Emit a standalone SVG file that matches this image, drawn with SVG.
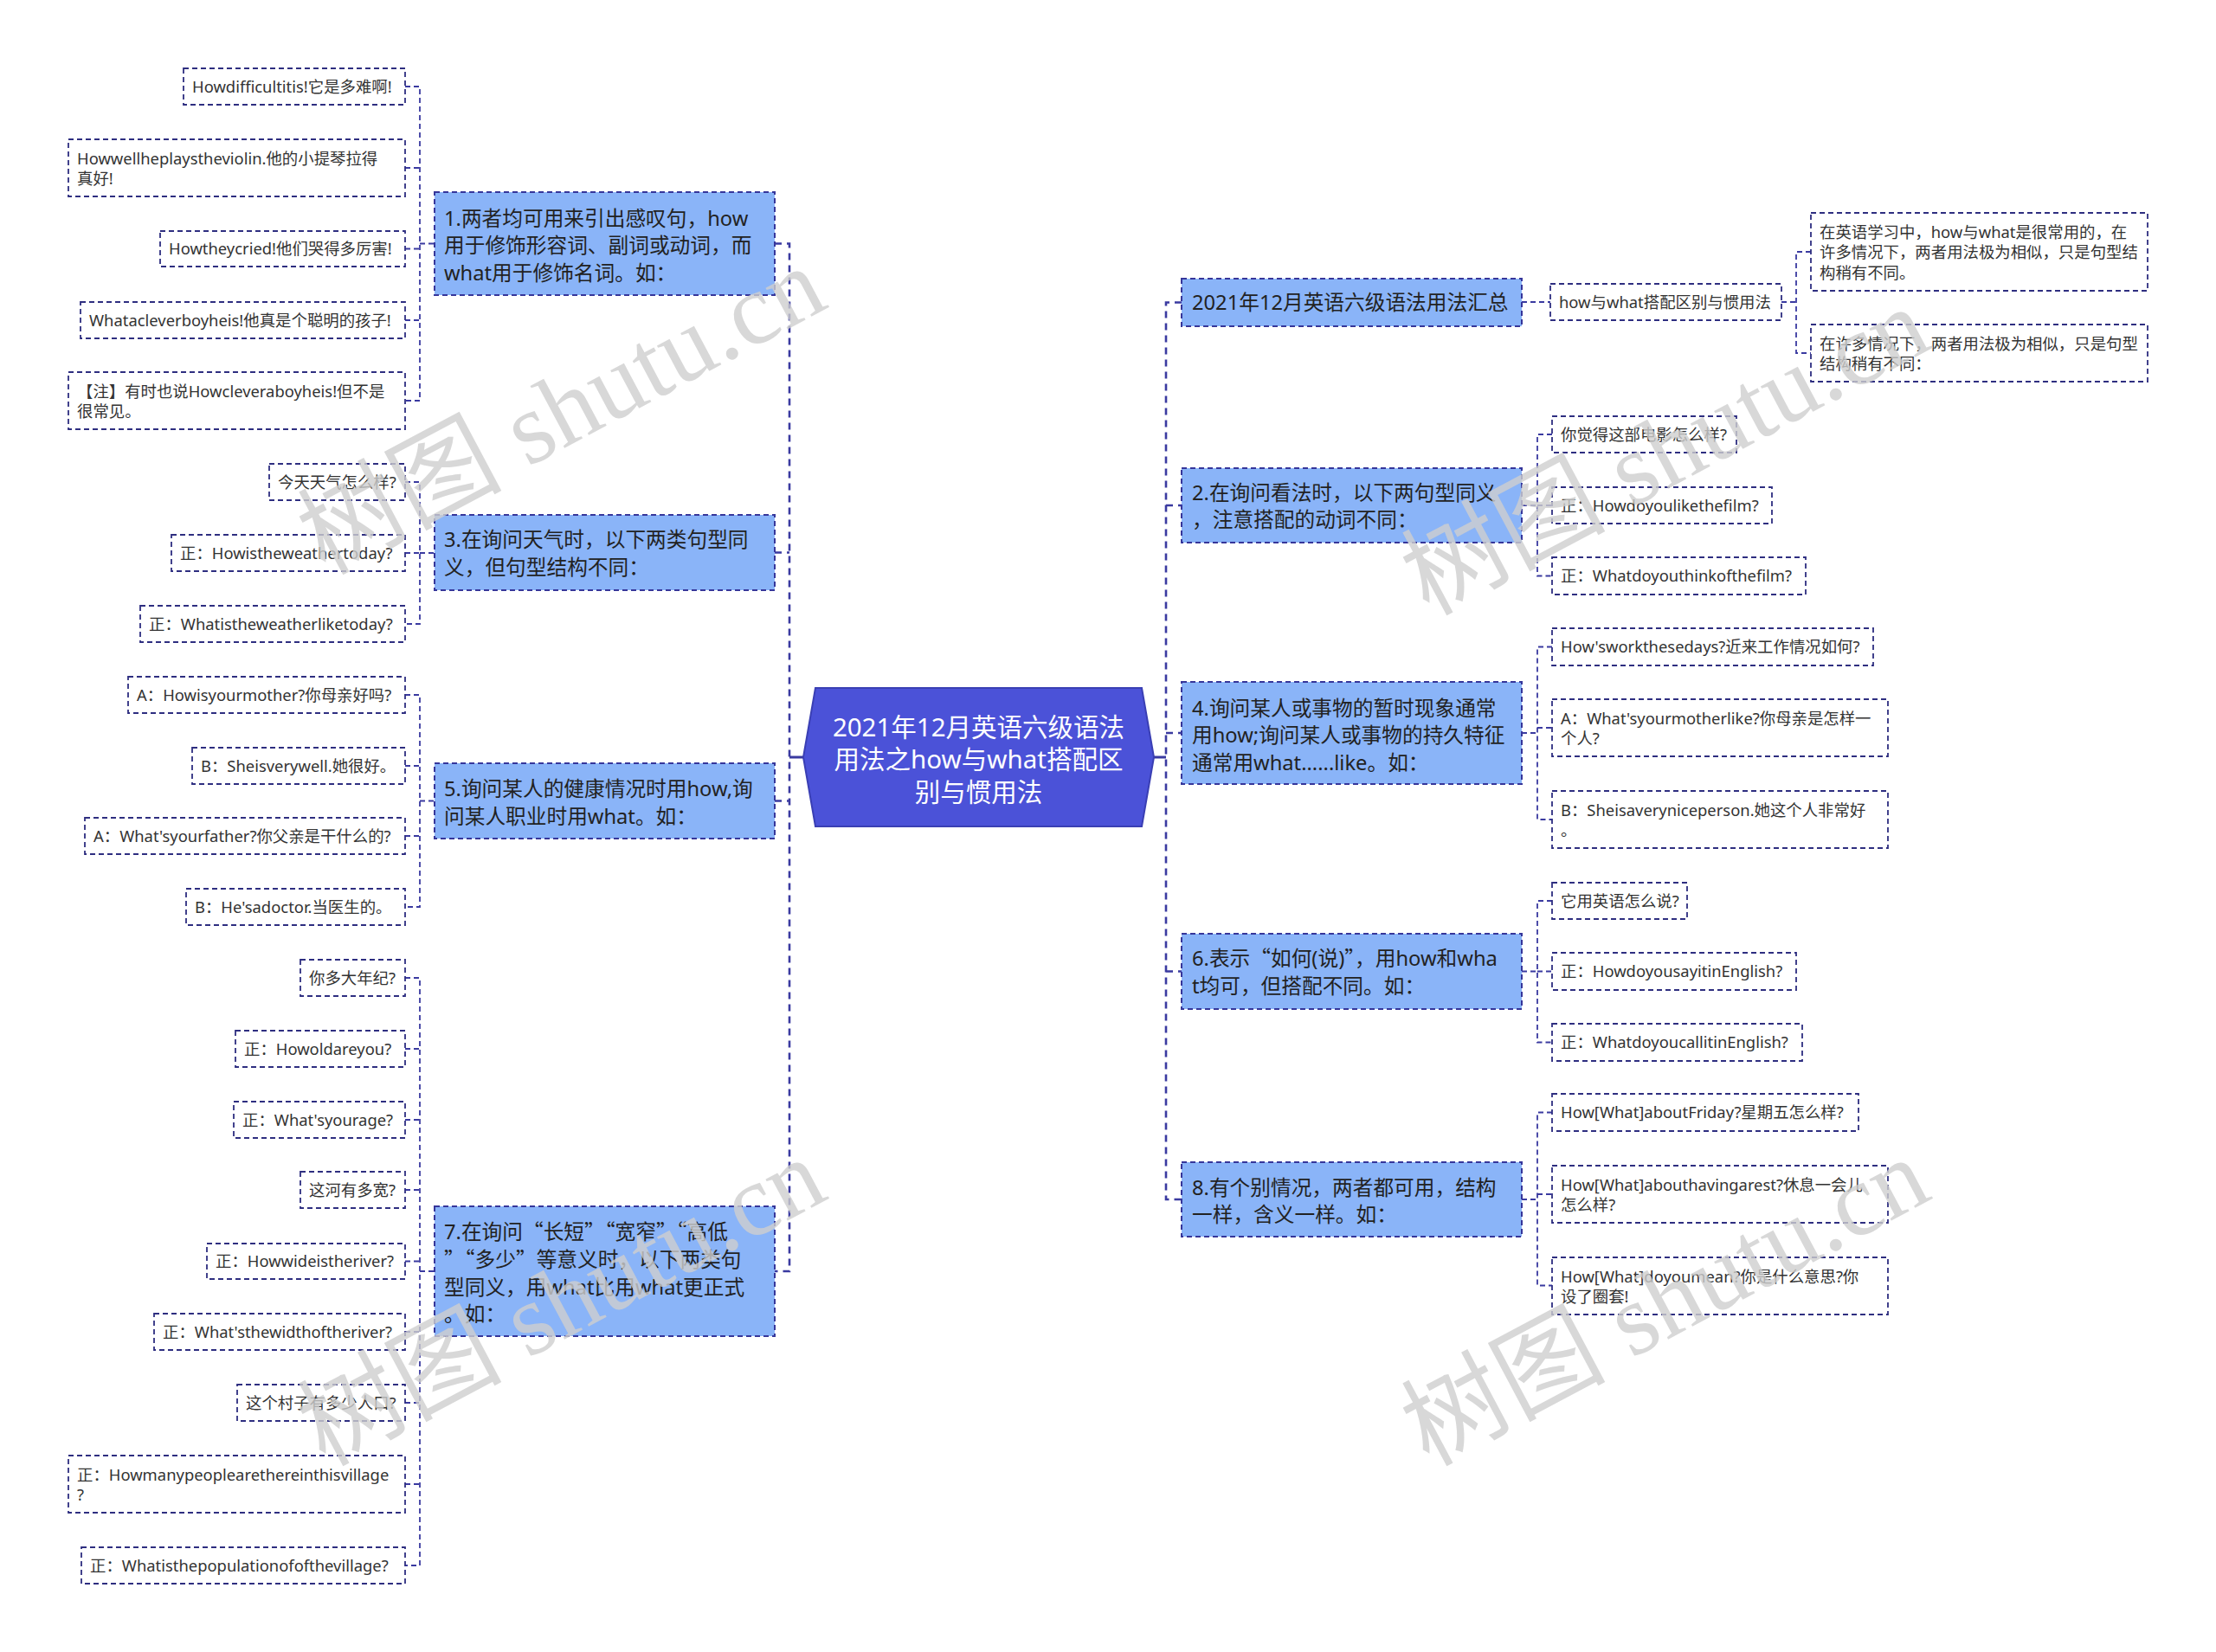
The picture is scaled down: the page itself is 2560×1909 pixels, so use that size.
<svg xmlns="http://www.w3.org/2000/svg" width="2560" height="1909" viewBox="0 0 2560 1909">
<style>
text{font-family:"Noto Sans","Noto Sans CJK SC",sans-serif;}
.cjk{font-family:"Noto Sans CJK SC",sans-serif;}
.node rect{fill:#8ab4f8;stroke:#36369a;stroke-width:2;stroke-dasharray:6 4;}
.node text{font-size:23.7px;fill:#222;}
.leaf rect{fill:#fff;stroke:#2e2e80;stroke-width:1.8;stroke-dasharray:6 4;}
.leaf text{font-size:18.4px;fill:#333;}
.root polygon{fill:#4b52d8;stroke:#3a3fb4;stroke-width:2;}
.root text{font-size:29.5px;fill:#fff;text-anchor:middle;}
#connectors path{fill:none;stroke:#3a3aa0;stroke-width:1.8;stroke-dasharray:6 4;}
#connectors path.trunk{stroke-width:2.6;stroke-dasharray:8 6;}
#connectors path.solid{stroke-width:3;stroke-dasharray:none;}
.wm{font-family:"Liberation Serif","Noto Sans CJK SC",serif;font-size:118px;fill:#cfcfcf;opacity:0.8;}
</style>
<rect width="2560" height="1909" fill="#fff"/>
<g id="connectors">
<path class="solid" d="M912,875H928M1333,875H1347"/>
<path class="trunk" d="M895,281.5H912V1469H895M895,638.5H912M895,925.5H912"/>
<path class="trunk" d="M1365,349.5H1347V1386H1365M1347,584H1365M1347,847H1365M1347,1122.5H1365"/>
<path d="M468,100H485V463H468M468,194H485M468,287.5H485M468,370H485M485,281.5H502"/>
<path d="M468,557H485V721H468M468,639H485M485,639H502"/>
<path d="M468,803H485V1048H468M468,885H485M468,966H485M485,925.5H502"/>
<path d="M468,1130H485V1809H468M468,1212H485M468,1294H485M468,1375H485M468,1457.5H485M468,1539H485M468,1621H485M468,1715H485M485,1469H502"/>
<path d="M1758,349H1791M2058,349H2075M2092,291H2075V408H2092"/>
<path d="M1758,584H1776M1793,502H1776V665.5H1793M1776,584H1793"/>
<path d="M1758,847H1776M1793,747.5H1776V947H1793M1776,841H1793"/>
<path d="M1758,1122.5H1776M1793,1041H1776V1204.5H1793M1776,1122.5H1793"/>
<path d="M1758,1386H1776M1793,1285.5H1776V1485.5H1793M1776,1380H1793"/>
</g>
<g id="root" class="root">
<polygon points="942,795 1319,795 1333,875 1319,955 942,955 928,875"/>
<text x="1130.5" y="850.5">2021年12月英语六级语法</text>
<text x="1130.5" y="887.5">用法之how与what搭配区</text>
<text x="1130.5" y="925.5">别与惯用法</text>
</g>
<g id="n1" class="node"><rect x="502" y="222" width="393" height="119"/>
<text x="513" y="260.5">1.两者均可用来引出感叹句，how</text>
<text x="513" y="292">用于修饰形容词、副词或动词，而</text>
<text x="513" y="323.5">what用于修饰名词。如：</text></g>
<g id="n3" class="node"><rect x="502" y="595" width="393" height="87"/>
<text x="513" y="631.5">3.在询问天气时，以下两类句型同</text>
<text x="513" y="663.5">义，但句型结构不同：</text></g>
<g id="n5" class="node"><rect x="502" y="882" width="393" height="87"/>
<text x="513" y="919.5">5.询问某人的健康情况时用how,询</text>
<text x="513" y="951.5">问某人职业时用what。如：</text></g>
<g id="n7" class="node"><rect x="502" y="1394" width="393" height="150"/>
<text x="513" y="1431.5">7.在询问<tspan class="cjk">“</tspan>长短<tspan class="cjk">”“</tspan>宽窄<tspan class="cjk">”“</tspan>高低</text>
<text x="513" y="1463.5"><tspan class="cjk">”“</tspan>多少<tspan class="cjk">”</tspan>等意义时，以下两类句</text>
<text x="513" y="1495.5">型同义，用what比用what更正式</text>
<text x="513" y="1526.5">。如：</text></g>
<g id="r0" class="node"><rect x="1365" y="322" width="393" height="55"/>
<text x="1377" y="358">2021年12月英语六级语法用法汇总</text></g>
<g id="r2" class="node"><rect x="1365" y="541" width="393" height="86"/>
<text x="1377" y="577.5">2.在询问看法时，以下两句型同义</text>
<text x="1377" y="608.5">，注意搭配的动词不同：</text></g>
<g id="r4" class="node"><rect x="1365" y="788" width="393" height="118"/>
<text x="1377" y="826.5">4.询问某人或事物的暂时现象通常</text>
<text x="1377" y="858">用how;询问某人或事物的持久特征</text>
<text x="1377" y="889.5">通常用what......like。如：</text></g>
<g id="r6" class="node"><rect x="1365" y="1079" width="393" height="87"/>
<text x="1377" y="1115.5">6.表示<tspan class="cjk">“</tspan>如何(说)<tspan class="cjk">”</tspan>，用how和wha</text>
<text x="1377" y="1147.5">t均可，但搭配不同。如：</text></g>
<g id="r8" class="node"><rect x="1365" y="1343" width="393" height="86"/>
<text x="1377" y="1380.5">8.有个别情况，两者都可用，结构</text>
<text x="1377" y="1411.5">一样，含义一样。如：</text></g>
<g id="l1a" class="leaf"><rect x="212" y="79" width="256" height="42"/><text x="222" y="106.5">Howdifficultitis!它是多难啊!</text></g>
<g id="l1b" class="leaf"><rect x="79" y="161" width="389" height="66"/><text x="89" y="189.5">Howwellheplaystheviolin.他的小提琴拉得</text><text x="89" y="213">真好!</text></g>
<g id="l1c" class="leaf"><rect x="185" y="267" width="283" height="41"/><text x="195" y="294">Howtheycried!他们哭得多厉害!</text></g>
<g id="l1d" class="leaf"><rect x="93" y="349" width="375" height="42"/><text x="103" y="376.5">Whatacleverboyheis!他真是个聪明的孩子!</text></g>
<g id="l1e" class="leaf"><rect x="79" y="430" width="389" height="66"/><text x="89" y="458.5">【注】有时也说Howcleveraboyheis!但不是</text><text x="89" y="482">很常见。</text></g>
<g id="l3a" class="leaf"><rect x="311" y="536" width="157" height="42"/><text x="321" y="563.5">今天天气怎么样?</text></g>
<g id="l3b" class="leaf"><rect x="198" y="618" width="270" height="42"/><text x="208" y="645.5">正：Howistheweathertoday?</text></g>
<g id="l3c" class="leaf"><rect x="162" y="700" width="306" height="42"/><text x="172" y="727.5">正：Whatistheweatherliketoday?</text></g>
<g id="l5a" class="leaf"><rect x="148" y="782" width="320" height="42"/><text x="158" y="809.5">A：Howisyourmother?你母亲好吗?</text></g>
<g id="l5b" class="leaf"><rect x="222" y="864" width="246" height="42"/><text x="232" y="891.5">B：Sheisverywell.她很好。</text></g>
<g id="l5c" class="leaf"><rect x="98" y="945" width="370" height="42"/><text x="108" y="972.5">A：What'syourfather?你父亲是干什么的?</text></g>
<g id="l5d" class="leaf"><rect x="215" y="1027" width="253" height="42"/><text x="225" y="1054.5">B：He'sadoctor.当医生的。</text></g>
<g id="l7a" class="leaf"><rect x="347" y="1109" width="121" height="42"/><text x="357" y="1136.5">你多大年纪?</text></g>
<g id="l7b" class="leaf"><rect x="272" y="1191" width="196" height="42"/><text x="282" y="1218.5">正：Howoldareyou?</text></g>
<g id="l7c" class="leaf"><rect x="270" y="1273" width="198" height="42"/><text x="280" y="1300.5">正：What'syourage?</text></g>
<g id="l7d" class="leaf"><rect x="347" y="1354" width="121" height="42"/><text x="357" y="1381.5">这河有多宽?</text></g>
<g id="l7e" class="leaf"><rect x="239" y="1437" width="229" height="41"/><text x="249" y="1464">正：Howwideistheriver?</text></g>
<g id="l7f" class="leaf"><rect x="178" y="1518" width="290" height="42"/><text x="188" y="1545.5">正：What'sthewidthoftheriver?</text></g>
<g id="l7g" class="leaf"><rect x="274" y="1600" width="194" height="42"/><text x="284" y="1627.5">这个村子有多少人口?</text></g>
<g id="l7h" class="leaf"><rect x="79" y="1682" width="389" height="66"/><text x="89" y="1710.5">正：Howmanypeoplearethereinthisvillage</text><text x="89" y="1734">?</text></g>
<g id="l7i" class="leaf"><rect x="94" y="1788" width="374" height="42"/><text x="104" y="1815.5">正：Whatisthepopulationofofthevillage?</text></g>
<g id="c0" class="leaf"><rect x="1791" y="328" width="267" height="42"/><text x="1801" y="355.5">how与what搭配区别与惯用法</text></g>
<g id="g1" class="leaf"><rect x="2092" y="246" width="389" height="90"/><text x="2102" y="274.5">在英语学习中，how与what是很常用的，在</text><text x="2102" y="298">许多情况下，两者用法极为相似，只是句型结</text><text x="2102" y="321.5">构稍有不同。</text></g>
<g id="g2" class="leaf"><rect x="2092" y="375" width="389" height="66"/><text x="2102" y="403.5">在许多情况下，两者用法极为相似，只是句型</text><text x="2102" y="427">结构稍有不同：</text></g>
<g id="r2a" class="leaf"><rect x="1793" y="481" width="213" height="42"/><text x="1803" y="508.5">你觉得这部电影怎么样?</text></g>
<g id="r2b" class="leaf"><rect x="1793" y="563" width="254" height="42"/><text x="1803" y="590.5">正：Howdoyoulikethefilm?</text></g>
<g id="r2c" class="leaf"><rect x="1793" y="644" width="293" height="43"/><text x="1803" y="672">正：Whatdoyouthinkofthefilm?</text></g>
<g id="r4a" class="leaf"><rect x="1793" y="726" width="371" height="43"/><text x="1803" y="754">How'sworkthesedays?近来工作情况如何?</text></g>
<g id="r4b" class="leaf"><rect x="1793" y="808" width="388" height="66"/><text x="1803" y="836.5">A：What'syourmotherlike?你母亲是怎样一</text><text x="1803" y="860">个人?</text></g>
<g id="r4c" class="leaf"><rect x="1793" y="914" width="388" height="66"/><text x="1803" y="942.5">B：Sheisaveryniceperson.她这个人非常好</text><text x="1803" y="966">。</text></g>
<g id="r6a" class="leaf"><rect x="1793" y="1020" width="156" height="42"/><text x="1803" y="1047.5">它用英语怎么说?</text></g>
<g id="r6b" class="leaf"><rect x="1793" y="1101" width="282" height="43"/><text x="1803" y="1129">正：HowdoyousayitinEnglish?</text></g>
<g id="r6c" class="leaf"><rect x="1793" y="1183" width="289" height="43"/><text x="1803" y="1211">正：WhatdoyoucallitinEnglish?</text></g>
<g id="r8a" class="leaf"><rect x="1793" y="1264" width="354" height="43"/><text x="1803" y="1292">How[What]aboutFriday?星期五怎么样?</text></g>
<g id="r8b" class="leaf"><rect x="1793" y="1347" width="388" height="66"/><text x="1803" y="1375.5">How[What]abouthavingarest?休息一会儿</text><text x="1803" y="1399">怎么样?</text></g>
<g id="r8c" class="leaf"><rect x="1793" y="1453" width="388" height="66"/><text x="1803" y="1481.5">How[What]doyoumean?你是什么意思?你</text><text x="1803" y="1505">设了圈套!</text></g>
<g id="watermarks">
<text class="wm" x="375" y="665" transform="rotate(-28 375 665)">树图 shutu.cn</text>
<text class="wm" x="1650" y="712" transform="rotate(-28 1650 712)">树图 shutu.cn</text>
<text class="wm" x="375" y="1695" transform="rotate(-28 375 1695)">树图 shutu.cn</text>
<text class="wm" x="1650" y="1695" transform="rotate(-28 1650 1695)">树图 shutu.cn</text>
</g>
</svg>
